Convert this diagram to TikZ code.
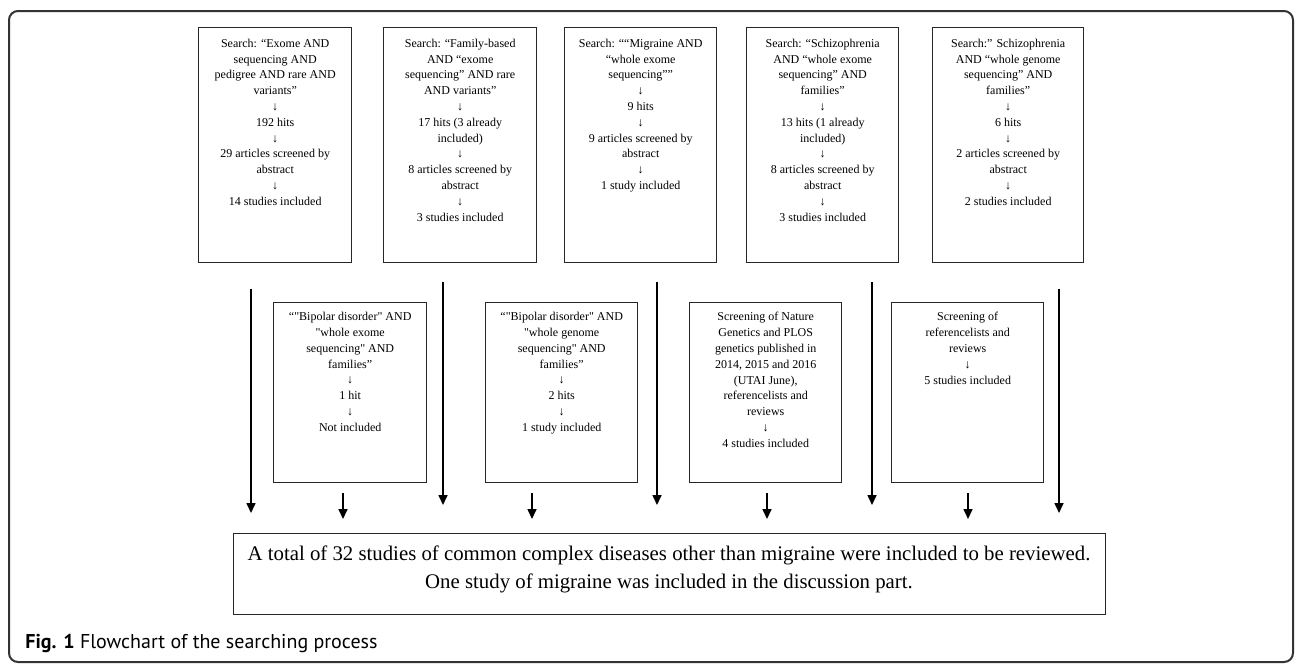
\documentclass[tikz,border=0pt]{standalone}
\usepackage{fontspec}
\setmainfont{Liberation Serif}[Ligatures=TeXOff]
\newfontfamily\capfont{PT Sans}
\usetikzlibrary{arrows.meta}
\begin{document}
\begin{tikzpicture}[x=0.5pt,y=-0.5pt,
  boxline/.style={draw=black!85,line width=0.7pt},
  topbox/.style={boxline,anchor=north west,inner sep=0pt,minimum width=#1*0.5pt,minimum height=117.5pt},
  midbox/.style={boxline,anchor=north west,inner sep=0pt,minimum width=#1*0.5pt,minimum height=90pt},
  boxtext/.style={anchor=north,inner sep=0pt,align=center,font=\fontsize{6}{7.9}\selectfont},
  arr/.style={line width=0.8pt,-{Triangle[length=5pt,width=4.5pt]}}]
\useasboundingbox (0,0) rectangle (1295,665);
% outer frame
\draw[line width=1pt,draw=black!80,rounded corners=4.5pt] (9,11) rectangle (1293,662);
% top boxes
\node[topbox=153] (b1) at (198,27) {};
\node[topbox=153] (b2) at (383,27) {};
\node[topbox=152] (b3) at (564,27) {};
\node[topbox=152] (b4) at (746,27) {};
\node[topbox=151] (b5) at (932,27) {};
\node[boxtext] (t1) at ([yshift=-5.8pt]b1.north) {Search: “Exome AND\\sequencing AND\\pedigree AND rare AND\\variants”\\↓\\192 hits\\↓\\29 articles screened by\\abstract\\↓\\14 studies included};
\node[boxtext] (t2) at ([yshift=-5.8pt]b2.north) {Search: “Family-based\\AND “exome\\sequencing” AND rare\\AND variants”\\↓\\17 hits (3 already\\included)\\↓\\8 articles screened by\\abstract\\↓\\3 studies included};
\node[boxtext] (t3) at ([yshift=-5.8pt]b3.north) {Search: ““Migraine AND\\“whole exome\\sequencing””\\↓\\9 hits\\↓\\9 articles screened by\\abstract\\↓\\1 study included};
\node[boxtext] (t4) at ([yshift=-5.8pt]b4.north) {Search: “Schizophrenia\\AND “whole exome\\sequencing” AND\\families”\\↓\\13 hits (1 already\\included)\\↓\\8 articles screened by\\abstract\\↓\\3 studies included};
\node[boxtext] (t5) at ([yshift=-5.8pt]b5.north) {Search:” Schizophrenia\\AND “whole genome\\sequencing” AND\\families”\\↓\\6 hits\\↓\\2 articles screened by\\abstract\\↓\\2 studies included};
% second row boxes
\node[midbox=153] (m1) at (273,302) {};
\node[midbox=152] (m2) at (485,302) {};
\node[midbox=152] (m3) at (689,302) {};
\node[midbox=152] (m4) at (891,302) {};
\node[boxtext] (s1) at ([yshift=-5pt]m1.north) {“"Bipolar disorder" AND\\"whole exome\\sequencing" AND\\families”\\↓\\1 hit\\↓\\Not included};
\node[boxtext] (s2) at ([yshift=-5pt]m2.north) {“"Bipolar disorder" AND\\"whole genome\\sequencing" AND\\families”\\↓\\2 hits\\↓\\1 study included};
\node[boxtext] (s3) at ([yshift=-5pt]m3.north) {Screening of Nature\\Genetics and PLOS\\genetics published in\\2014, 2015 and 2016\\(UTAI June),\\referencelists and\\reviews\\↓\\4 studies included};
\node[boxtext] (s4) at ([yshift=-5pt]m4.north) {Screening of\\referencelists and\\reviews\\↓\\5 studies included};
% result box
\node[boxline,anchor=north west,inner sep=0pt,minimum width=436pt,minimum height=40.5pt] (res) at (233,533) {};
\node[inner sep=0pt,align=center,font=\fontsize{10.4}{14}\selectfont] (rest) at (669,569) {A total of 32 studies of common complex diseases other than migraine were included to be reviewed.\\One study of migraine was included in the discussion part.};
% long lines
\coordinate (l1s) at (251,289); \coordinate (l1e) at (251,513);
\coordinate (l2s) at (443,282); \coordinate (l2e) at (443,505);
\coordinate (l3s) at (657,282); \coordinate (l3e) at (657,505);
\coordinate (l4s) at (872,282); \coordinate (l4e) at (872,505);
\coordinate (l5s) at (1059,289); \coordinate (l5e) at (1059,513);
\foreach \i in {1,...,5} {\draw[arr] (l\i s) -- (l\i e);}
% short arrows
\coordinate (a1s) at (343,493); \coordinate (a1e) at (343,519);
\coordinate (a2s) at (532,493); \coordinate (a2e) at (532,519);
\coordinate (a3s) at (767,493); \coordinate (a3e) at (767,519);
\coordinate (a4s) at (968,493); \coordinate (a4e) at (968,519);
\foreach \i in {1,...,4} {\draw[arr] (a\i s) -- (a\i e);}
% caption
\node[anchor=west,inner sep=0pt,font=\capfont\fontsize{10}{11}\selectfont] (cap) at (25,643) {\textbf{Fig. 1} Flowchart of the searching process};
\end{tikzpicture}
\end{document}
